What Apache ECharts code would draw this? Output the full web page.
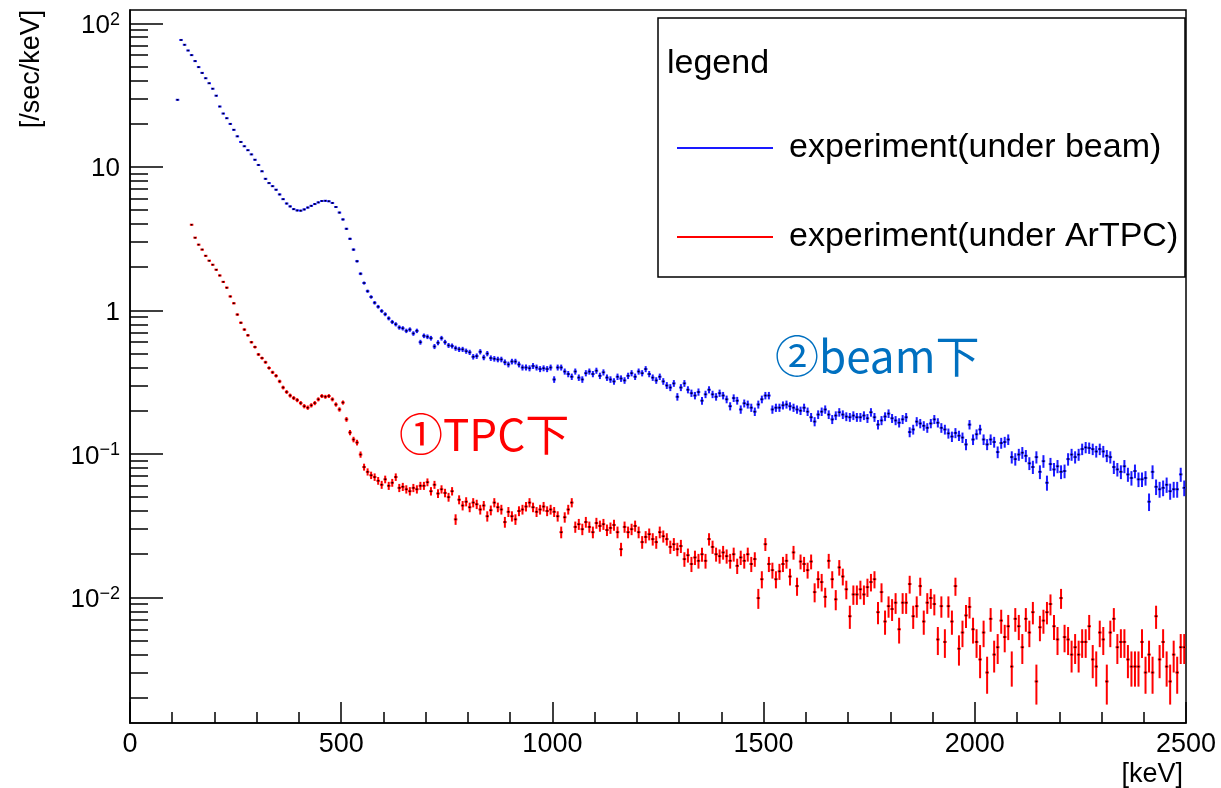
<!DOCTYPE html>
<html>
<head>
<meta charset="utf-8">
<script src="https://cdn.jsdelivr.net/npm/echarts@6/dist/echarts.min.js"></script>
<style>html,body{margin:0;padding:0;background:#fff}#c{width:1221px;height:788px}</style>
</head>
<body>
<div id="c"></div>
<script>
// ---- data (rate in /sec/keV per energy bin) ----
const BIN_WIDTH = 2500 / 300;           // keV per bin
const beamFirstBin = 13;                 // index of first filled bin (under beam)
const beamRate = [
  29.3,
  76.5, 70.8, 64.6, 60, 54.5, 49.5, 45.1, 41.4, 38.2, 35, 31.3, 26.3, 23.5, 21.8, 19.9, 18.1, 16.3, 14.9, 13.9, 13.05,
  12.2, 11.2, 10.3, 9.3, 8.25, 7.7, 7.33, 6.93, 6.42, 5.95, 5.55, 5.3, 5.07, 4.97, 4.95,
  5.05, 5.2, 5.35, 5.5, 5.65, 5.78, 5.8, 5.75, 5.6, 5.25, 4.8, 4.3, 3.7, 3.15, 2.65, 2.2, 1.8, 1.55, 1.36, 1.24,
  1.13, 1.06, 0.99, 0.94,
  0.88, 0.83, 0.80, 0.76, 0.75, 0.72, 0.735, 0.69, 0.72, 0.60,
  0.665, 0.655, 0.64, 0.56, 0.595, 0.64, 0.60, 0.57, 0.565, 0.545,
  0.535, 0.535, 0.52, 0.51, 0.475, 0.48, 0.515, 0.47, 0.50, 0.465,
  0.46, 0.455, 0.455, 0.435, 0.42, 0.44, 0.44, 0.42, 0.40, 0.40,
  0.395, 0.41, 0.40, 0.39, 0.395, 0.39, 0.40,
  0.33, 0.40, 0.40, 0.375, 0.36, 0.345, 0.375, 0.34, 0.33, 0.365,
  0.375, 0.36, 0.38, 0.35, 0.37, 0.34, 0.33, 0.32, 0.345, 0.335,
  0.325, 0.35, 0.365, 0.345, 0.375, 0.365, 0.39, 0.36, 0.34, 0.325,
  0.345, 0.32, 0.30, 0.29, 0.31, 0.25, 0.29, 0.31, 0.28, 0.265,
  0.255, 0.27, 0.235, 0.26, 0.28, 0.26, 0.25, 0.265, 0.255, 0.24,
  0.215, 0.245, 0.235, 0.204, 0.225, 0.221, 0.21, 0.197, 0.221, 0.24,
  0.255, 0.255, 0.204, 0.21, 0.21, 0.218, 0.221, 0.215, 0.21, 0.204,
  0.20, 0.21, 0.197, 0.18, 0.168, 0.188, 0.197, 0.204, 0.188, 0.174,
  0.185, 0.195, 0.188, 0.182, 0.18, 0.185, 0.18, 0.18, 0.185, 0.177,
  0.195, 0.18, 0.16, 0.171, 0.182, 0.191, 0.177, 0.171, 0.165, 0.174,
  0.18, 0.142, 0.148, 0.168, 0.163, 0.157, 0.152, 0.163, 0.174, 0.165,
  0.152, 0.148, 0.139, 0.132, 0.140, 0.134, 0.130, 0.1165, 0.16, 0.126,
  0.137, 0.148, 0.126, 0.1165, 0.126, 0.121, 0.103, 0.119, 0.121, 0.126,
  0.095, 0.092, 0.099, 0.102, 0.097, 0.086, 0.081, 0.095, 0.075, 0.089,
  0.063, 0.085, 0.078, 0.082, 0.075, 0.076, 0.092, 0.099, 0.095, 0.099,
  0.108, 0.111, 0.11, 0.108, 0.104, 0.108, 0.104, 0.097, 0.095, 0.081,
  0.078, 0.075, 0.082, 0.072, 0.068, 0.076, 0.0665, 0.0665, 0.068, 0.0465,
  0.075, 0.059, 0.0567, 0.058, 0.061, 0.055, 0.0567, 0.0567, 0.072, 0.058
];
const tpcFirstBin = 17;                  // index of first filled bin (under ArTPC)
const tpcRate = [
  3.95, 3.21, 2.87, 2.65, 2.40, 2.22, 2.08, 1.92, 1.75, 1.58,
  1.44, 1.25, 1.12, 0.935, 0.82, 0.735, 0.67, 0.60, 0.555, 0.493,
  0.465, 0.435, 0.397, 0.37, 0.35, 0.32, 0.29, 0.27, 0.255, 0.245,
  0.237, 0.226, 0.215, 0.21, 0.218, 0.226, 0.24, 0.253, 0.25, 0.253,
  0.24, 0.221, 0.204, 0.228, 0.174, 0.141, 0.126, 0.12, 0.099, 0.081,
  0.075, 0.071, 0.069, 0.065, 0.061, 0.0665, 0.06, 0.063, 0.069, 0.058,
  0.059, 0.0567, 0.055, 0.058, 0.0567, 0.06,
  0.06, 0.0635, 0.055, 0.061, 0.053, 0.0567, 0.0535, 0.05, 0.055, 0.035,
  0.048, 0.0437, 0.0465, 0.0425, 0.0458, 0.0446, 0.041, 0.0437, 0.0368, 0.0405,
  0.0458, 0.0425, 0.041, 0.0335, 0.0395, 0.0368, 0.035, 0.04, 0.041, 0.043,
  0.0458, 0.0425, 0.0395, 0.041, 0.043, 0.04, 0.041,
  0.0395, 0.0368, 0.0285, 0.0362, 0.041, 0.0458, 0.031, 0.0324, 0.0299, 0.0335,
  0.031, 0.0285, 0.033, 0.0315, 0.0324, 0.0295, 0.0305, 0.032, 0.0285, 0.0217,
  0.031, 0.0285, 0.0299, 0.0315, 0.0285, 0.0243, 0.0264, 0.0276, 0.0255, 0.0243,
  0.0285, 0.0267, 0.0255, 0.0225, 0.0235, 0.0217, 0.0228, 0.0185, 0.0197, 0.0171,
  0.019, 0.018, 0.02, 0.018, 0.0255, 0.0225, 0.02, 0.0194, 0.0206, 0.0194,
  0.018, 0.02, 0.0166, 0.019, 0.018, 0.02, 0.0171, 0.0185,
  0.0099, 0.0134,
  0.0235, 0.0171, 0.0155, 0.0134, 0.0152, 0.0171, 0.018, 0.014, 0.0206, 0.012,
  0.0178, 0.0171, 0.0155, 0.0178, 0.0109, 0.0134, 0.0128, 0.0101, 0.018, 0.0134,
  0.0097, 0.0162, 0.014, 0.0114, 0.0074, 0.0105, 0.0105, 0.0114, 0.0105, 0.0118,
  0.0128, 0.0134, 0.0079, 0.0109, 0.0068, 0.0087, 0.0083, 0.0092, 0.006, 0.0092,
  0.0092, 0.0124, 0.0074, 0.0087, 0.012, 0.0068, 0.0092, 0.0099, 0.009, 0.0051,
  0.0087, 0.0049, 0.0087, 0.0068, 0.012, 0.0044, 0.0057, 0.0075, 0.0086, 0.006,
  0.0049, 0.0037, 0.0057, 0.003, 0.0071, 0.004, 0.0045, 0.0069, 0.0053, 0.0063,
  0.0033, 0.0071, 0.0063, 0.0045, 0.0071, 0.0057, 0.0079, 0.0026, 0.0062, 0.0069,
  0.0079, 0.009, 0.0063, 0.0051, 0.0099, 0.0053, 0.0051, 0.004, 0.0045, 0.004,
  0.0049, 0.0049, 0.0063, 0.0037, 0.0033, 0.0057, 0.0051, 0.0026, 0.0057, 0.0071,
  0.0045, 0.0049, 0.0049, 0.0037, 0.0033, 0.0033, 0.0033, 0.0049, 0.003, 0.004,
  0.003, 0.0074, 0.0037, 0.0049, 0.0033, 0.0026, 0.004, 0.003, 0.0045, 0.0045
];
// counting exposure (s*keV per bin) used for the Poisson error bars
const beamExposure = 1100;
const tpcExposure = 4000;

const seriesNames = ['experiment(under beam)', 'experiment(under ArTPC)'];
const xTickValues = [0, 500, 1000, 1500, 2000, 2500];
const yMajorTicks = [0.01, 0.1, 1, 10, 100];
const yMinorMultipliers = [2, 3, 4, 5, 6, 7, 8, 9];
const Y_MIN = 0.001335, Y_MAX = 123.7;

// ---- build ----
const yMinorTicks = [];
[0.001, 0.01, 0.1, 1, 10].forEach(d => yMinorMultipliers.forEach(m => {
  const v = +(m * d).toPrecision(3);
  if (v > Y_MIN && v < Y_MAX) yMinorTicks.push(v);
}));
function toPoints(rates, firstBin, exposure) {
  return rates.map((v, i) => [(firstBin + i + 0.5) * BIN_WIDTH, v, Math.sqrt(v / exposure)]);
}
const beamData = toPoints(beamRate, beamFirstBin, beamExposure);
const tpcData = toPoints(tpcRate, tpcFirstBin, tpcExposure);

const BLUE = '#1a1aff', RED = '#ff0000';
const FONT = 'Liberation Sans';

function errRenderer(color) {
  return function (params, api) {
    const x = api.value(0), y = api.value(1), e = api.value(2);
    const h = BIN_WIDTH / 2;
    const pL = api.coord([x - h, y]);
    const pR = api.coord([x + h, y]);
    const pT = api.coord([x, y + e]);
    const pB = api.coord([x, Math.max(y - e, 1e-5)]);
    const cs = params.coordSys;
    const bottom = cs.y + cs.height, top = cs.y;
    const yb = Math.min(pB[1], bottom), yt = Math.max(pT[1], top);
    const cx = (pL[0] + pR[0]) / 2;
    return {
      type: 'group',
      children: [
        { type: 'line', shape: { x1: pL[0], y1: pL[1], x2: pR[0], y2: pR[1] }, style: { stroke: color, lineWidth: 2 } },
        { type: 'line', shape: { x1: cx, y1: yt, x2: cx, y2: yb }, style: { stroke: color, lineWidth: 2 } },
        { type: 'rect', shape: { x: cx - 0.75, y: pL[1] - 0.75, width: 1.5, height: 1.5 }, style: { fill: '#000' } }
      ]
    };
  };
}

function yLabel(v) {
  const e = Math.round(Math.log10(v));
  if (e === 0) return '1';
  if (e === 1) return '10';
  return '10{sup|' + (e < 0 ? '\u2212' : '') + Math.abs(e) + '}';
}

const chart = echarts.init(document.getElementById('c'), null, { renderer: 'canvas' });
chart.setOption({
  animation: false,
  backgroundColor: '#fff',
  grid: { left: 130, right: 35, top: 10, bottom: 64, show: true, borderColor: '#000', borderWidth: 1.5, backgroundColor: 'transparent' },
  xAxis: {
    type: 'value', min: 0, max: 2500, interval: 500,
    name: '[keV]', nameLocation: 'end', nameGap: -3,
    nameTextStyle: { fontFamily: FONT, fontSize: 27, color: '#000', align: 'right', verticalAlign: 'top', padding: [38, 0, 0, 0] },
    axisLine: { show: true, lineStyle: { color: '#000', width: 1.5 } },
    axisTick: { show: true, inside: true, length: 21, lineStyle: { color: '#000', width: 1.5 } },
    minorTick: { show: true, splitNumber: 5, length: 11, lineStyle: { color: '#000', width: 1.5 } },
    axisLabel: { fontFamily: FONT, fontSize: 27, color: '#000', margin: 8, customValues: xTickValues, formatter: v => String(v) },
    splitLine: { show: false }, minorSplitLine: { show: false }
  },
  yAxis: [{
    type: 'log', logBase: 10, min: Y_MIN, max: Y_MAX, position: 'left',
    axisLine: { show: true, lineStyle: { color: '#000', width: 1.5 } },
    axisTick: { show: true, inside: true, length: 33, lineStyle: { color: '#000', width: 1.5 }, customValues: yMajorTicks },
    axisLabel: {
      customValues: yMajorTicks, formatter: yLabel, margin: 10,
      fontFamily: FONT, fontSize: 26, color: '#000', lineHeight: 30, padding: [5, 0, 0, 0],
      rich: { sup: { fontFamily: FONT, fontSize: 18, color: '#000', lineHeight: 20, verticalAlign: 'top' } }
    },
    splitLine: { show: false }, minorTick: { show: false }
  }, {
    type: 'log', logBase: 10, min: Y_MIN, max: Y_MAX, position: 'left', offset: 0,
    axisLine: { show: false },
    axisTick: { show: true, inside: true, length: 18, lineStyle: { color: '#000', width: 1.5 }, customValues: yMinorTicks },
    axisLabel: { show: false },
    splitLine: { show: false }
  }],
  legend: {
    data: seriesNames, orient: 'vertical', left: 672, top: 125,
    icon: 'rect', itemWidth: 96, itemHeight: 2, itemGap: 53, selectedMode: false,
    textStyle: { fontFamily: FONT, fontSize: 34, color: '#000', lineHeight: 36, padding: [0, 0, 0, 11] }
  },
  graphic: [
    { type: 'rect', z: 1, shape: { x: 658, y: 18, width: 527, height: 259 }, style: { fill: '#fff', stroke: '#000', lineWidth: 1.5 } },
    { type: 'text', z: 3, x: 667, y: 64, style: { text: 'legend', fontFamily: FONT, fontSize: 34, fill: '#000', align: 'left', verticalAlign: 'middle' } },
    { type: 'text', z: 3, x: 32, y: 69, rotation: Math.PI / 2, style: { text: '[/sec/keV]', fontFamily: FONT, fontSize: 27, fill: '#000', align: 'center', verticalAlign: 'middle' } },
    { type: 'text', z: 5, x: 775, y: 356, style: { text: '②beam下', fontFamily: 'Noto Sans CJK JP', fontSize: 44, fill: '#0070C0', align: 'left', verticalAlign: 'middle' } },
    { type: 'text', z: 5, x: 399, y: 434, style: { text: '①TPC下', fontFamily: 'Noto Sans CJK JP', fontSize: 44, fill: '#FF0000', align: 'left', verticalAlign: 'middle' } }
  ],
  series: [
    { name: seriesNames[0], type: 'custom', clip: true, itemStyle: { color: BLUE }, renderItem: errRenderer(BLUE), encode: { x: 0, y: 1 }, data: beamData, z: 2 },
    { name: seriesNames[1], type: 'custom', clip: true, itemStyle: { color: RED }, renderItem: errRenderer(RED), encode: { x: 0, y: 1 }, data: tpcData, z: 2 }
  ]
});
</script>
</body>
</html>
